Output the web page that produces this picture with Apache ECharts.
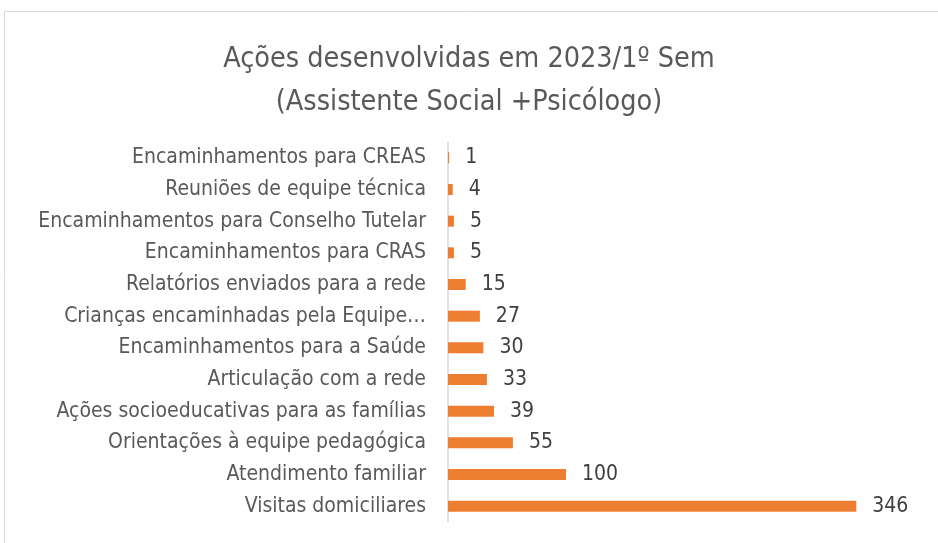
<!DOCTYPE html>
<html>
<head>
<meta charset="utf-8">
<script src="https://cdn.jsdelivr.net/npm/echarts@6/dist/echarts.min.js"></script>
<style>
  html, body { margin: 0; padding: 0; background: #fff; }
  #chart { width: 938px; height: 543px; }
</style>
</head>
<body>
<div id="chart"></div>
<script>
const categories = [
  'Encaminhamentos para CREAS',
  'Reuniões de equipe técnica',
  'Encaminhamentos para Conselho Tutelar',
  'Encaminhamentos para CRAS',
  'Relatórios enviados para a rede',
  'Crianças encaminhadas pela Equipe…',
  'Encaminhamentos para a Saúde',
  'Articulação com a rede',
  'Ações socioeducativas para as famílias',
  'Orientações à equipe pedagógica',
  'Atendimento familiar',
  'Visitas domiciliares'
]
const values = [1, 4, 5, 5, 15, 27, 30, 33, 39, 55, 100, 346]

const FONT = 'Liberation Sans Narrow, DejaVu Sans Condensed, sans-serif'

const chart = echarts.init(document.getElementById('chart'))

const option = {
  backgroundColor: '#fff',
  animation: false,
  title: {
    text: 'Ações desenvolvidas em 2023/1º Sem\n(Assistente Social +Psicólogo)',
    left: 'center',
    top: 33,
    textStyle: {
      fontFamily: FONT,
      fontWeight: 'normal',
      fontSize: 28.5,
      lineHeight: 43,
      color: '#595959'
    }
  },
  graphic: [
    {
      type: 'rect',
      shape: { x: 4.5, y: 11.5, width: 960, height: 560 },
      style: { fill: 'none', stroke: '#d9d9d9', lineWidth: 1 },
      silent: true
    }
  ],
  grid: {
    left: 448,
    right: 18,
    top: 142,
    bottom: 21
  },
  xAxis: {
    type: 'value',
    min: 0,
    max: 400,
    show: false
  },
  yAxis: {
    type: 'category',
    inverse: true,
    data: categories,
    axisLine: { show: true, lineStyle: { color: '#d9d9d9', width: 1.5 } },
    axisTick: { show: false },
    axisLabel: {
      fontFamily: FONT,
      fontSize: 21,
      color: '#595959',
      margin: 22
    }
  },
  series: [
    {
      type: 'bar',
      data: values,
      barWidth: 11,
      itemStyle: { color: '#ED7D31' },
      label: {
        show: true,
        position: 'right',
        distance: 16,
        fontFamily: FONT,
        fontSize: 21,
        color: '#404040'
      }
    }
  ]
}

chart.setOption(option)
</script>
</body>
</html>
